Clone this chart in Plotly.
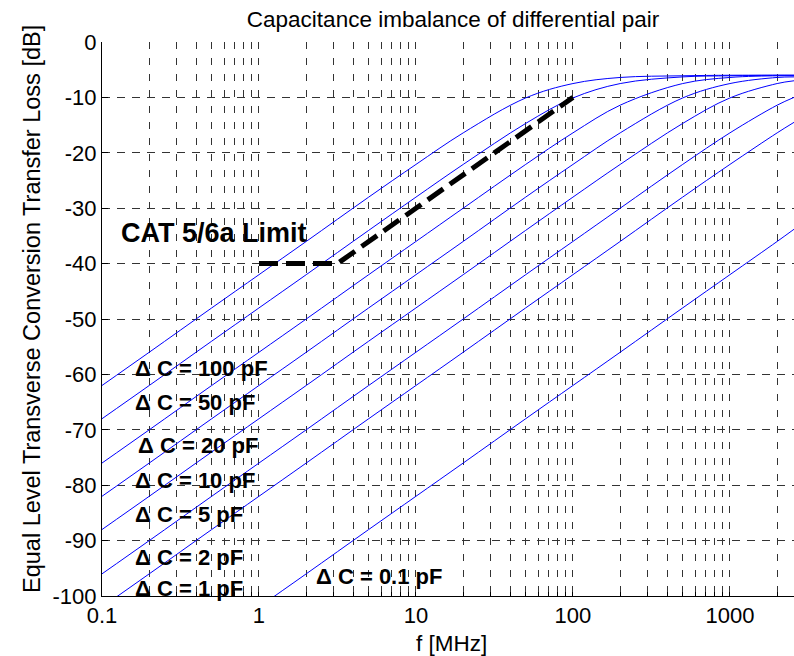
import math
import plotly.graph_objects as go

# ---------------- data ----------------
freq_mhz = [0.1, 0.2, 0.5, 1, 2, 5, 10, 20, 50, 100, 200, 500, 1000, 2000, 2560]

tcl_100pf = [-62.0, -56.0, -48.0, -42.0, -36.0, -28.0, -22.1, -16.4, -10.1, -7.5, -6.4, -6.1, -6.0, -6.0, -6.0]
tcl_50pf = [-68.0, -62.0, -54.0, -48.0, -42.0, -34.0, -28.0, -22.1, -14.7, -10.1, -7.5, -6.3, -6.1, -6.0, -6.0]
tcl_20pf = [-76.0, -70.0, -62.0, -56.0, -50.0, -42.0, -36.0, -30.0, -22.1, -16.4, -11.4, -7.5, -6.4, -6.1, -6.1]
tcl_10pf = [-82.0, -76.0, -68.0, -62.0, -56.0, -48.0, -42.0, -36.0, -28.0, -22.1, -16.4, -10.1, -7.5, -6.4, -6.3]
tcl_5pf = [-88.0, -82.0, -74.0, -68.0, -62.0, -54.0, -48.0, -42.0, -34.0, -28.0, -22.1, -14.7, -10.1, -7.5, -7.0]
tcl_2pf = [-96.0, -90.0, -82.0, -76.0, -70.0, -62.0, -56.0, -50.0, -42.0, -36.0, -30.0, -22.1, -16.4, -11.4, -10.0]
tcl_1pf = [-102.0, -96.0, -88.0, -82.0, -76.0, -68.0, -62.0, -56.0, -48.0, -42.0, -36.0, -28.0, -22.1, -16.4, -14.5]
tcl_01pf = [-122.0, -116.0, -108.0, -102.0, -96.0, -88.0, -82.0, -76.0, -68.0, -62.0, -56.0, -48.0, -42.0, -36.0, -33.8]

limit_freq = [1, 3.16, 100]
limit_db = [-40, -40, -10]

series = [tcl_100pf, tcl_50pf, tcl_20pf, tcl_10pf, tcl_5pf, tcl_2pf, tcl_1pf, tcl_01pf]
series_names = ["100 pF", "50 pF", "20 pF", "10 pF", "5 pF", "2 pF", "1 pF", "0.1 pF"]

label_texts = ["Δ C = 100 pF", "Δ C = 50 pF", "Δ C = 20 pF", "Δ C = 10 pF",
               "Δ C = 5 pF", "Δ C = 2 pF", "Δ C = 1 pF", "Δ C = 0.1 pF"]
label_freq = [0.158, 0.158, 0.164, 0.158, 0.158, 0.158, 0.158, 2.24]
label_db = [-59.0, -65.0, -72.9, -79.2, -85.2, -93.0, -98.7, -96.4]

x_tick_vals = [m * 10 ** e for e in range(-1, 3) for m in range(1, 10)] + [1000, 2000]
x_tick_text = [("%g" % v) if m == 1 else "" for v, m in
               zip(x_tick_vals, [m for e in range(-1, 3) for m in range(1, 10)] + [1, 2])]
y_tick_vals = list(range(-100, 1, 10))
y_tick_text = [str(v) for v in y_tick_vals]

FONT = "Liberation Sans, Arial, sans-serif"

fig = go.Figure()
for name, ys in zip(series_names, series):
    fig.add_trace(go.Scatter(x=freq_mhz, y=ys, mode="lines", name=name,
                             line=dict(color="#0000ff", width=1, shape="spline"),
                             showlegend=False))

fig.add_trace(go.Scatter(x=limit_freq, y=limit_db, mode="lines", name="CAT 5/6a Limit",
                         line=dict(color="black", width=5, dash="19px,8px"),
                         showlegend=False))

annotations = []
for t, f, d in zip(label_texts, label_freq, label_db):
    annotations.append(dict(x=math.log10(f), y=d, xref="x", yref="y", text="<b>%s</b>" % t,
                            showarrow=False, xanchor="left", yanchor="middle",
                            font=dict(family=FONT, size=22, color="black")))
annotations.append(dict(x=math.log10(0.128), y=-34.5, xref="x", yref="y",
                        text="<b>CAT 5/6a Limit</b>", showarrow=False,
                        xanchor="left", yanchor="middle",
                        font=dict(family=FONT, size=27, color="black")))
# axis titles
annotations.append(dict(x=0, y=0.5, xref="paper", yref="paper", xanchor="center", yanchor="middle",
                        xshift=-70, yshift=10, textangle=-90, showarrow=False,
                        text="Equal Level Transverse Conversion Transfer Loss [dB]",
                        font=dict(family=FONT, size=23.5, color="black")))
annotations.append(dict(x=451 / 692 - 0.0, y=0, xref="paper", yref="paper",
                        xanchor="center", yanchor="middle", showarrow=False, yshift=-47,
                        xshift=-102 * 0,
                        text="f [MHz]", font=dict(family=FONT, size=22.5, color="black")))

fig.update_layout(
    width=794, height=656,
    margin=dict(l=102, r=0, t=42, b=60),
    paper_bgcolor="white", plot_bgcolor="white",
    font=dict(family=FONT, size=22, color="black"),
    title=dict(text="Capacitance imbalance of differential pair", x=453 / 794, xref="container",
               xanchor="center", y=1 - 19 / 656, yref="container", yanchor="middle",
               font=dict(family=FONT, size=22.5, color="black")),
    annotations=annotations,
    showlegend=False,
)
# place "f [MHz]" center at pixel x=451 (plot area starts at 102, width 692)
fig.layout.annotations[-1].x = (451 - 102) / 692

fig.update_xaxes(type="log", range=[-1, math.log10(2560)],
                 tickmode="array", tickvals=x_tick_vals, ticktext=x_tick_text,
                 ticks="inside", ticklen=4, tickcolor="black", tickwidth=1,
                 showline=True, linecolor="black", linewidth=1, mirror=False,
                 showgrid=True, gridcolor="#333333", gridwidth=1, griddash="7px,9px",
                 zeroline=False, tickfont=dict(family=FONT, size=22, color="black"))
fig.update_yaxes(range=[-100, 0], tickmode="array", tickvals=y_tick_vals, ticktext=y_tick_text,
                 ticks="inside", ticklen=6, tickcolor="black", tickwidth=1,
                 showline=True, linecolor="black", linewidth=1, mirror=False,
                 showgrid=True, gridcolor="#333333", gridwidth=1, griddash="8px,7px",
                 zeroline=False, ticklabelstandoff=0,
                 tickfont=dict(family=FONT, size=22, color="black"))

fig.write_html("out.html")
